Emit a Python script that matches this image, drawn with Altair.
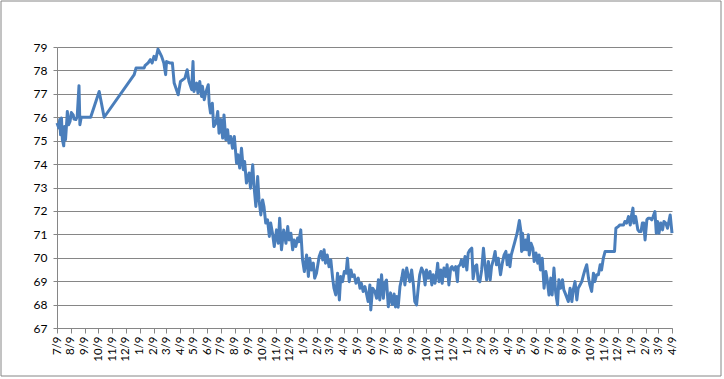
import altair as alt
import pandas as pd

start_date = "2009-07-09"
end_date = "2013-04-09"

days = [0, 4, 6, 8, 10, 12, 15, 17, 19, 22, 23, 26, 29, 32, 36, 38, 42, 45, 49, 51, 54,
        75, 94, 105, 172, 176, 194, 196, 203, 208, 212, 216, 220, 225, 233, 238, 242, 244,
        251, 257, 261, 270, 275, 285, 290, 294, 300, 303, 305, 311, 314, 318, 322, 324, 328,
        331, 337, 339, 342, 346, 349, 354, 358, 361, 365, 369, 372, 376, 380, 383, 387, 391,
        395, 400, 403, 407, 411, 415, 418, 422, 428, 431, 436, 439, 443, 447, 450, 454, 458,
        461, 465, 469, 473, 476, 480, 484, 489, 493, 496, 500, 505, 510, 514, 517, 521, 525,
        528, 532, 536, 539, 543, 547, 551, 556, 560, 563, 567, 571, 574, 578, 584, 588, 592,
        595, 598, 602, 606, 610, 614, 617, 621, 625, 629, 632, 636, 640, 644, 647, 651, 655,
        658, 662, 666, 671, 675, 678, 682, 686, 690, 693, 697, 699, 703, 708, 712, 716, 719,
        723, 727, 730, 734, 738, 743, 747, 751, 754, 757, 760, 764, 768, 771, 775, 779, 782,
        786, 790, 794, 797, 801, 805, 808, 812, 816, 820, 823, 827, 831, 835, 838, 842, 846,
        848, 851, 855, 858, 862, 866, 869, 873, 877, 880, 884, 888, 892, 894, 898, 901, 905,
        909, 913, 916, 920, 924, 927, 931, 935, 938, 942, 946, 950, 953, 957, 961, 965, 968,
        972, 976, 979, 983, 988, 992, 996, 1000, 1003, 1007, 1009, 1012, 1015, 1020, 1025,
        1030, 1033, 1035, 1037, 1040, 1044, 1046, 1050, 1052, 1056, 1060, 1063, 1067, 1071,
        1074, 1077, 1081, 1085, 1089, 1092, 1096, 1100, 1103, 1107, 1111, 1115, 1118, 1122,
        1126, 1129, 1132, 1135, 1139, 1143, 1147, 1150, 1154, 1158, 1161, 1165, 1169, 1172,
        1176, 1180, 1184, 1187, 1191, 1195, 1198, 1202, 1206, 1210, 1213, 1217, 1221, 1242,
        1245, 1250, 1254, 1262, 1265, 1269, 1273, 1277, 1280, 1283, 1285, 1289, 1294, 1297,
        1301, 1304, 1307, 1310, 1314, 1317, 1321, 1325, 1328, 1332, 1335, 1338, 1341, 1345,
        1349, 1352, 1356, 1360, 1363, 1366, 1370]

values = [75.75, 75.54, 75.9, 75.25, 75.97, 75.04, 74.78, 75.6, 75.04, 75.9, 76.25, 75.68,
          75.82, 76.2, 76.1, 75.92, 75.9, 76.03, 77.35, 75.68, 76.0,
          76.0, 77.1, 76.0, 77.82, 78.1, 78.1, 78.2, 78.32, 78.46, 78.32, 78.6, 78.46, 78.91,
          78.6, 78.32, 77.82, 78.38,
          78.32, 78.32, 77.46, 76.96, 77.53, 77.67, 78.03, 77.53, 77.18, 78.38, 77.1, 77.46,
          77.03, 77.53, 76.89, 77.32, 76.75,
          77.03, 77.39, 76.6, 76.18, 76.6, 75.6, 75.75, 76.25, 75.32, 75.9, 75.11, 76.1, 75.04,
          75.47, 74.9, 75.18, 74.68,
          75.18, 74.04, 74.4, 73.83, 74.68, 73.76, 74.11, 73.19, 73.62, 72.97, 73.97, 73.04,
          72.19, 73.47, 72.47, 71.83, 72.47,
          72.19, 71.48, 71.62, 70.91, 71.48, 71.05, 70.48, 71.19, 70.62, 71.69, 70.34, 71.19,
          70.62, 71.33, 70.76, 71.05, 70.34,
          70.76, 70.48, 70.84, 70.69, 71.19, 69.91, 69.41, 70.12, 69.2, 69.98, 69.48, 69.77,
          69.13, 69.34, 70.05, 70.27, 69.91,
          70.34, 69.77, 70.12, 69.62, 69.91, 69.13, 68.7, 68.41, 69.34, 68.2, 69.2, 68.98,
          69.41, 69.34, 69.98, 68.98, 69.48,
          69.2, 69.27, 68.91, 69.13, 68.7, 68.91, 68.56, 68.77, 68.41, 68.13, 68.84, 67.77,
          68.7, 68.56, 68.27, 69.06, 68.2,
          69.27, 68.27, 68.91, 69.05, 67.91, 68.5, 68.0, 68.45, 67.9, 68.35, 67.89, 68.77,
          69.13, 69.48, 68.84, 69.56, 69.27,
          68.98, 69.48, 68.84, 68.13, 67.99, 68.77, 69.27, 69.56, 69.41, 68.84, 69.48, 69.13,
          69.41, 68.84, 69.27, 68.91, 69.41,
          69.77, 68.98, 69.48, 68.91, 69.56, 69.2, 69.7, 68.84, 69.56, 69.62, 69.48, 69.62,
          68.98, 69.62, 69.7, 69.91, 69.62,
          70.05, 69.48, 70.2, 70.34, 70.41, 69.1, 69.62, 69.7, 69.06, 68.98, 69.48, 70.41,
          69.77, 69.06, 69.84, 69.06, 69.62,
          69.91, 70.27, 69.7, 69.98, 69.27, 69.77, 70.12, 70.27, 69.7, 70.12, 69.62, 70.12,
          70.34, 70.69, 71.05,
          71.59, 71.19, 70.27, 71.05, 70.34, 70.76, 70.34, 70.98, 70.12, 70.62, 70.41, 69.84,
          70.2, 69.77,
          70.12, 69.48, 69.98, 68.7, 69.41, 69.06, 68.41, 69.13, 68.41, 69.56, 68.49, 67.99,
          69.06, 68.7,
          69.06, 68.63, 68.49, 68.34, 68.13, 68.7, 68.13, 68.63, 68.98, 68.2, 68.7, 68.84,
          68.98, 69.2,
          69.48, 69.7, 69.13, 68.84, 68.56, 69.34, 68.98, 69.27, 69.27, 69.7, 69.48, 69.98,
          70.27, 70.27,
          71.26, 71.33, 71.4, 71.4, 71.55, 71.48, 71.76, 71.4, 71.83, 72.12, 71.48, 71.76,
          71.19, 71.12,
          71.12, 71.48, 71.48, 70.76, 71.62, 71.69, 71.69, 71.62, 71.76, 71.97, 71.05, 71.55,
          71.05, 71.48,
          71.19, 71.55, 71.48, 71.26, 71.55, 71.83, 71.05]

y_ticks = list(range(67, 80))

df = pd.DataFrame({
    "date": pd.Timestamp(start_date) + pd.to_timedelta(days, unit="D"),
    "value": values,
})

tick_dates = pd.date_range(start_date, end_date, freq=pd.DateOffset(months=1))
tick_vals = [alt.DateTime(year=int(d.year), month=int(d.month), date=int(d.day)) for d in tick_dates]
s = pd.Timestamp(start_date)
e = pd.Timestamp(end_date)

grey = "#868686"

line = alt.Chart(df).mark_line(color="#4a7ebb", strokeWidth=3, strokeJoin="round").encode(
    x=alt.X("date:T",
            scale=alt.Scale(domain=[alt.DateTime(year=s.year, month=s.month, date=s.day),
                                    alt.DateTime(year=e.year, month=e.month, date=e.day)],
                            nice=False),
            axis=alt.Axis(values=tick_vals, format="%-m/%-d", labelAngle=270,
                          labelAlign="right", labelBaseline="middle",
                          labelFont="Lato", labelFontSize=11.5, labelColor="#000000",
                          labelPadding=3, tickSize=5, tickColor=grey, domainColor=grey,
                          grid=False, title=None, labelOverlap=False, labelFlush=False)),
    y=alt.Y("value:Q",
            scale=alt.Scale(domain=[67, 79], nice=False, zero=False),
            axis=alt.Axis(values=y_ticks, format="d", labelFont="Lato", labelFontSize=12,
                          labelColor="#000000", tickSize=4, tickColor=grey, domainColor=grey,
                          gridColor=grey, labelPadding=6, title=None)),
)

border = alt.Chart(alt.Data(values=[{}])).mark_rect(
    filled=False, stroke=grey, strokeWidth=1
).encode(
    x=alt.value(-56), x2=alt.value(664), y=alt.value(-46), y2=alt.value(329)
)

chart = alt.layer(border, line).properties(
    width=615, height=281,
    padding={"left": 57, "top": 47, "right": 52, "bottom": 51},
    autosize=alt.AutoSizeParams(type="none"),
    background="white",
).configure_view(stroke=None)

chart.save("out.html", embed_options={"renderer": "svg", "actions": False})
